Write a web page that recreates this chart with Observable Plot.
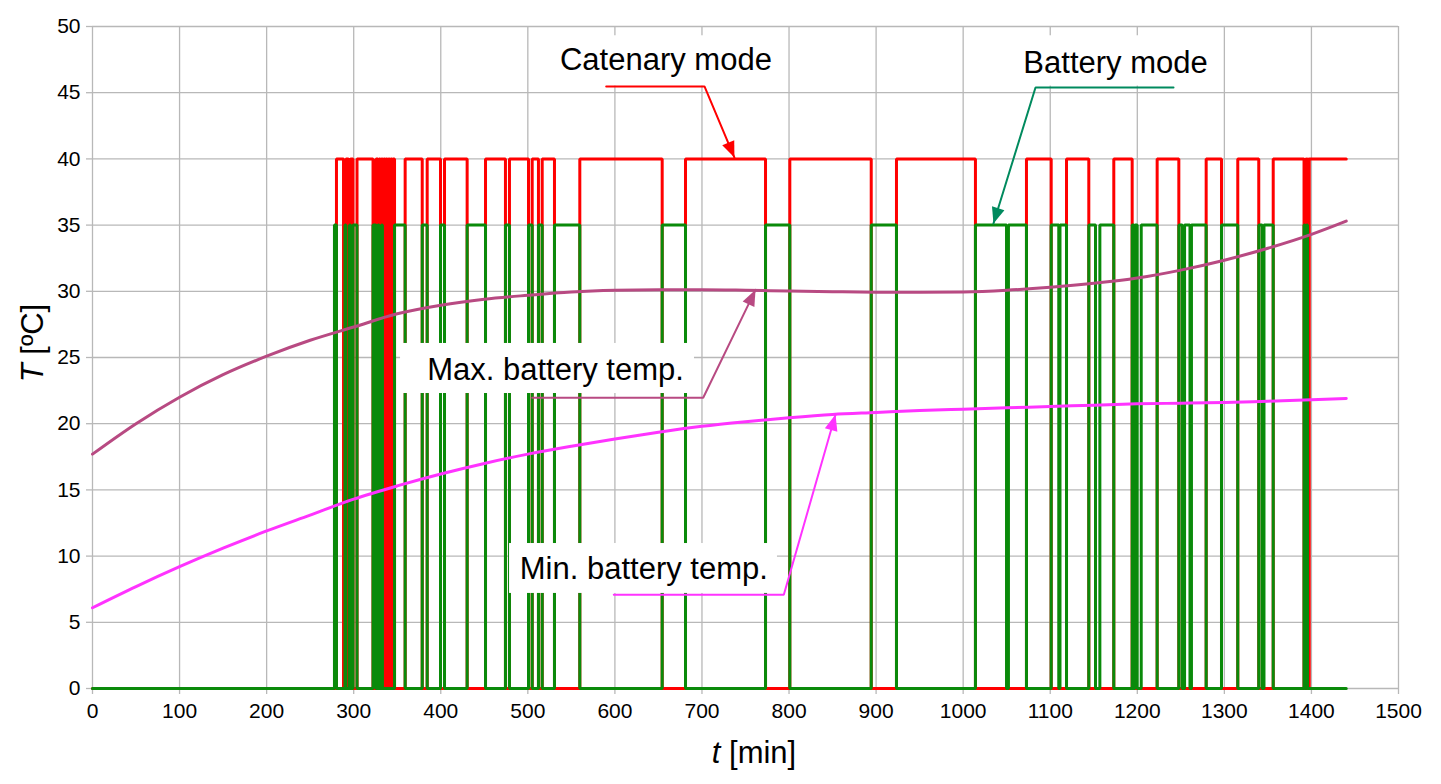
<!DOCTYPE html>
<html>
<head>
<meta charset="utf-8">
<script src="https://cdn.jsdelivr.net/npm/d3@7"></script>
<script src="https://cdn.jsdelivr.net/npm/@observablehq/plot@0.6"></script>
<style>
  html, body { margin: 0; padding: 0; background: #fff; }
  #chart svg { display: block; }
</style>
</head>
<body>
<div id="chart"></div>
<script>
// ---- Data ----
// Operating mode switch times [min] and the mode that starts there
// C = catenary mode, B = battery mode, S = standstill (both off)
const modeTimes = [0, 277.9, 280.2, 288.3, 290.0, 291.1, 294.0, 295.2, 296.3, 299.2, 303.8, 322.2, 325.6, 327.9, 329.1,
  330, 331, 332, 333, 334, 335, 336, 337, 338, 339, 340, 341, 342, 343, 344, 345,
  346.9, 359.1, 378.7, 384.4, 399.7, 404.3, 430.3, 451.4, 474.3, 478.9, 500.8, 505.0, 512.2, 516.5,
  530.6, 559.7, 654.3, 681.1, 773.0, 800.9, 894.4, 923.4, 1014.1, 1049.8, 1052.0, 1072.7,
  1101.1, 1109.8, 1111.2, 1118.7, 1144.3, 1152.0, 1157.0, 1173.0, 1194.1, 1196.0, 1197.2, 1199.9,
  1204.5, 1222.8, 1247.7, 1251.6, 1254.3, 1260.5, 1262.2, 1279.1, 1296.7, 1315.4, 1339.5, 1343.4,
  1345.5, 1356.1, 1391.5, 1392.5, 1393.5, 1394.5, 1395.5, 1396.5, 1397.5];
const modeStates = ["S", "B", "C", "S", "B", "C", "S", "B", "C", "B", "C", "B", "C", "B", "C",
  "S", "C", "B", "C", "S", "C", "S", "C", "S", "C", "S", "C", "S", "C", "S", "C",
  "B", "C", "B", "C", "B", "C", "B", "C", "B", "C", "B", "C", "B", "C",
  "B", "C", "B", "C", "B", "C", "B", "C", "B", "S", "B", "C",
  "B", "S", "B", "C", "B", "S", "B", "C", "B", "S", "B", "S",
  "B", "C", "B", "S", "B", "S", "B", "C", "B", "C", "B", "S",
  "B", "C", "B", "S", "C", "B", "C", "S", "C"];
const endTime = 1440;
const catenaryLevel = 40;
const batteryLevel = 35;

// Battery temperatures [°C]
const tempTimes = [0, 50, 100, 150, 200, 250, 300, 350, 400, 450, 500, 550, 600, 650, 700, 750, 800,
  850, 900, 950, 1000, 1050, 1100, 1150, 1200, 1250, 1300, 1350, 1400, 1440];
const maxTemp = [17.7, 20.0, 22.0, 23.7, 25.1, 26.3, 27.3, 28.3, 28.95, 29.4, 29.7, 29.95, 30.08, 30.12,
  30.12, 30.08, 30.02, 29.97, 29.93, 29.92, 29.95, 30.08, 30.3, 30.6, 31.0, 31.6, 32.35, 33.25, 34.3, 35.3];
const minTemp = [6.1, 7.7, 9.2, 10.6, 11.9, 13.1, 14.3, 15.3, 16.2, 17.0, 17.7, 18.3, 18.85, 19.35,
  19.8, 20.15, 20.45, 20.7, 20.85, 21.0, 21.1, 21.2, 21.3, 21.4, 21.5, 21.55, 21.6, 21.7, 21.8, 21.9];

// Ticks
const xTicks = d3.range(0, 1501, 100);
const yTicks = d3.range(0, 51, 5);

// Annotations (positions in data units)
const annTexts = ["Catenary mode", "Battery mode", "Max. battery temp.", "Min. battery temp."];
const annTextT = [658.6, 1175, 531.8, 633.2];
const annTextV = [47.45, 47.23, 24.06, 9.03];
const annColors = ["#ff0000", "#008a5e", "#b84a82", "#ff33ff"];
const annBoxT1 = [523.7, 1056.7, 353.8, 479.0];
const annBoxT2 = [793.6, 1293.3, 691.4, 786.7];
const annBoxV1 = [45.5, 45.5, 22.28, 7.18];
const annBoxV2 = [49.3, 49.3, 26.06, 10.95];
const annPathT = [[590.0, 702.9, 737.3], [1241.6, 1083.1, 1034.8], [505.0, 701.4, 761.5], [598.7, 794.0, 853.4]];
const annPathV = [[45.47, 45.47, 40.1], [45.39, 45.39, 35.12], [21.96, 21.96, 30.11], [7.08, 7.08, 20.69]];

// ---- Derived tables ----
function stepSeries(state, level) {
  const rows = modeTimes.map((t, i) => ({t, v: modeStates[i] === state ? level : 0}));
  rows.push({t: endTime, v: rows[rows.length - 1].v});
  return rows;
}
const catenary = stepSeries("C", catenaryLevel);
const battery = stepSeries("B", batteryLevel);
const maxRows = tempTimes.map((t, i) => ({t, v: maxTemp[i]}));
const minRows = tempTimes.map((t, i) => ({t, v: minTemp[i]}));
const boxes = annTexts.map((s, i) => ({x1: annBoxT1[i], x2: annBoxT2[i], y1: annBoxV1[i], y2: annBoxV2[i]}));
const labels = annTexts.map((s, i) => ({text: s, t: annTextT[i], v: annTextV[i]}));

function filledArrow(color) {
  const ns = "http://www.w3.org/2000/svg";
  const m = document.createElementNS(ns, "marker");
  m.setAttribute("viewBox", "-17 -8 18 16");
  m.setAttribute("markerWidth", 18);
  m.setAttribute("markerHeight", 16);
  m.setAttribute("markerUnits", "userSpaceOnUse");
  m.setAttribute("orient", "auto");
  m.setAttribute("refX", 0);
  m.setAttribute("refY", 0);
  const p = document.createElementNS(ns, "path");
  p.setAttribute("d", "M-16,-6.5L0,0L-16,6.5Z");
  p.setAttribute("fill", color);
  p.setAttribute("stroke", "none");
  m.appendChild(p);
  return m;
}

const leaderMarks = annPathT.map((ts, i) =>
  Plot.line(ts.map((t, j) => ({t, v: annPathV[i][j]})), {
    x: "t", y: "v", stroke: annColors[i], strokeWidth: 2, markerEnd: filledArrow,
    strokeLinejoin: "miter", curve: "linear"
  })
);

const gridColor = "#b8b8b8";
const fmt = (d) => String(d);
const chart = Plot.plot({
  width: 1441,
  height: 784,
  marginLeft: 92,
  marginRight: 43,
  marginTop: 26,
  marginBottom: 96,
  style: {fontFamily: "'Liberation Sans', Arial, sans-serif", fontSize: "21px", color: "#000", background: "#fff"},
  x: {domain: [0, 1500], label: null},
  y: {domain: [0, 50], label: null},
  marks: [
    Plot.gridX(xTicks, {stroke: gridColor, strokeOpacity: 1, strokeWidth: 1.3}),
    Plot.gridY(yTicks, {stroke: gridColor, strokeOpacity: 1, strokeWidth: 1.3}),
    Plot.axisX(xTicks, {tickSize: 6, tickPadding: 9, stroke: gridColor, strokeWidth: 1.3, fill: "#000", fontSize: 21, label: null, tickFormat: fmt}),
    Plot.axisY(yTicks, {tickSize: 6, tickPadding: 6, stroke: gridColor, strokeWidth: 1.3, fill: "#000", fontSize: 21, label: null, tickFormat: fmt}),
    Plot.line(catenary, {x: "t", y: "v", stroke: "#ff0000", strokeWidth: 3, curve: "step-after", strokeLinejoin: "miter"}),
    Plot.line(battery, {x: "t", y: "v", stroke: "#0a8a0a", strokeWidth: 3, curve: "step-after", strokeLinejoin: "miter"}),
    Plot.line(maxRows, {x: "t", y: "v", stroke: "#b84a82", strokeWidth: 3, curve: "monotone-x"}),
    Plot.line(minRows, {x: "t", y: "v", stroke: "#ff33ff", strokeWidth: 3, curve: "monotone-x"}),
    Plot.rect(boxes, {x1: "x1", x2: "x2", y1: "y1", y2: "y2", fill: "#fff"}),
    Plot.text(labels, {x: "t", y: "v", text: "text", fontSize: 31, fill: "#000", textAnchor: "middle"}),
    ...leaderMarks
  ]
});

document.getElementById("chart").appendChild(chart);

// Axis titles with italic symbols
const svg = d3.select(chart);
const yt = svg.append("text")
  .attr("transform", "translate(43,343) rotate(-90)")
  .attr("text-anchor", "middle")
  .attr("font-size", 31)
  .attr("fill", "#000");
yt.append("tspan").attr("font-style", "italic").text("T");
yt.append("tspan").text(" [ºC]");
const xt = svg.append("text")
  .attr("transform", "translate(754,763)")
  .attr("text-anchor", "middle")
  .attr("font-size", 31)
  .attr("fill", "#000");
xt.append("tspan").attr("font-style", "italic").text("t");
xt.append("tspan").text(" [min]");
</script>
</body>
</html>
